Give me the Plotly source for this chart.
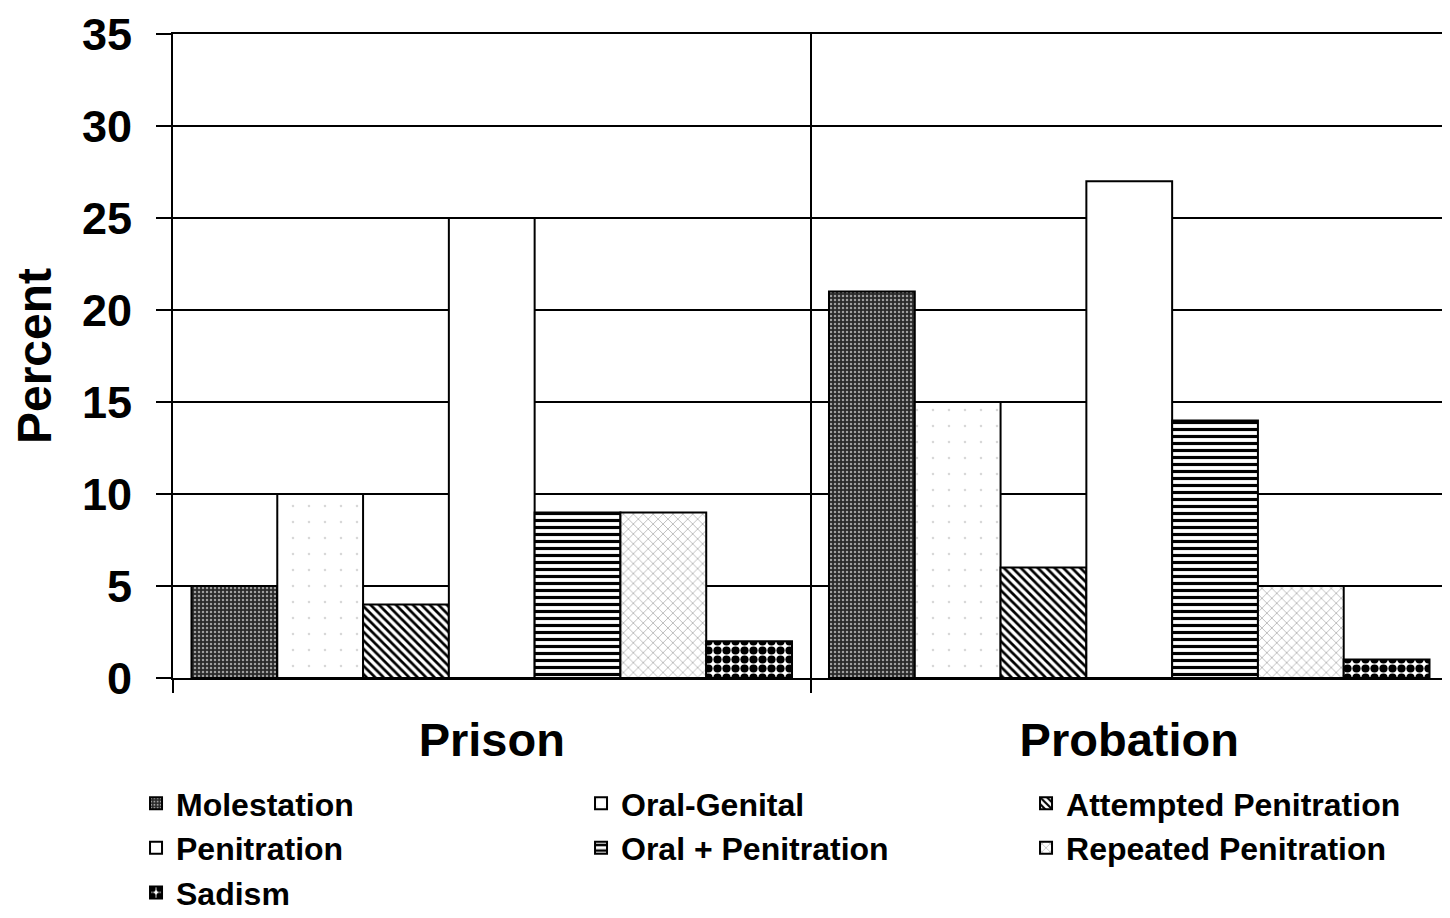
import plotly.graph_objects as go

groups = ["Prison", "Probation"]
series = ["Molestation", "Oral-Genital", "Attempted Penitration", "Penitration",
          "Oral + Penitration", "Repeated Penitration", "Sadism"]
molestation = [5, 21]
oral_genital = [10, 15]
attempted = [4, 6]
penitration = [25, 27]
oral_pen = [9, 14]
repeated = [9, 5]
sadism = [2, 1]
values = [molestation, oral_genital, attempted, penitration, oral_pen, repeated, sadism]

# pattern styling per series: (shape, bg, fg, size, solidity)
patterns = [
    (".", "#2a2a2a", "#a0a0a0", 4, 0.3),
    (".", "white", "#d8d8d8", 16, 0.02),
    ("\\", "white", "black", 6, 0.45),
    ("", "white", "black", 8, 0.3),
    ("-", "white", "black", 7, 0.45),
    ("x", "white", "#8a8a8a", 7, 0.15),
    (".", "white", "black", 9, 0.65),
]

FONT = "Liberation Sans, Arial, sans-serif"

fig = go.Figure()
for name, vals, (shape, bg, fg, size, sol) in zip(series, values, patterns):
    fig.add_trace(go.Bar(
        name=name, x=groups, y=vals,
        marker=dict(
            color=bg,
            line=dict(color="black", width=2),
            pattern=dict(shape=shape, bgcolor=bg, fgcolor=fg, size=size,
                         solidity=sol, fillmode="replace"),
        ),
    ))

# page body adds ~7px offset, so the figure is a bit smaller than the window
fig.update_layout(
    width=1443, height=911,
    margin=dict(l=165, r=3, t=26, b=241, autoexpand=False),
    paper_bgcolor="white", plot_bgcolor="white",
    barmode="group", bargap=0.058, bargroupgap=0,
    font=dict(family=FONT, color="black"),
    legend=dict(
        orientation="h", x=-0.029, xanchor="left", y=-0.152, yanchor="top",
        entrywidth=400, entrywidthmode="pixels",
        font=dict(size=32, family=FONT, weight="bold"),
        traceorder="normal", tracegroupgap=0, itemwidth=30,
    ),
    showlegend=True,
)
fig.update_yaxes(
    range=[0, 35], dtick=5, showgrid=True, gridcolor="black", gridwidth=1.5,
    showline=True, linecolor="black", linewidth=2, mirror=True,
    ticks="outside", ticklen=15, tickwidth=1.5, tickcolor="black",
    ticklabelstandoff=15, automargin=False, ticklabeloverflow="allow",
    tickfont=dict(size=45, family=FONT, weight="bold"),
    title=dict(text="Percent", font=dict(size=48, family=FONT, weight="bold"), standoff=17),
    zeroline=False,
)
fig.update_xaxes(
    showgrid=True, gridcolor="black", gridwidth=1.5, tickson="boundaries",
    showline=True, linecolor="black", linewidth=2, mirror=True,
    ticks="outside", ticklen=13, tickwidth=1.5, tickcolor="black",
    ticklabelstandoff=20, automargin=False,
    tickfont=dict(size=47, family=FONT, weight="bold"),
)

fig.write_html("out.html")
